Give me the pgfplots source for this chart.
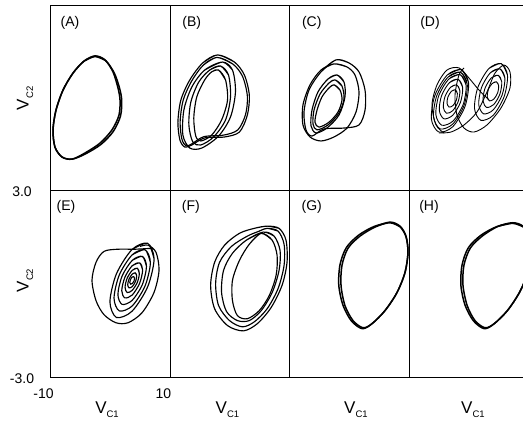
\documentclass[border=0pt]{standalone}
\usepackage{fontspec}
\setmainfont{Liberation Sans}
\usepackage{pgfplots}
\pgfplotsset{compat=1.18}
\newcommand{\VC}[1]{V\raisebox{-4.5pt}{\fontsize{9.5}{10}\selectfont C#1}}
\tikzset{plabel/.style={font=\fontsize{14}{16}\selectfont, anchor=center}}
\pgfplotsset{
 panel/.style={scale only axis, width=120pt, height=185pt, xmin=-10, xmax=10, ymin=-3, ymax=3,
   xtick=\empty, ytick=\empty, axis line style={line width=0.9pt}, anchor=south west, clip=true},
 traj/.style={black, line width=1.15pt, smooth, mark=none},
 thick traj/.style={black, line width=1.5pt, smooth, mark=none},
 xlab/.style={xlabel={\VC{1}}, xlabel style={at={(axis description cs:#1,-0.176)}, anchor=center, font=\fontsize{17}{20}\selectfont}},
 ylab/.style={ylabel={\VC{2}}, ylabel style={at={(axis description cs:-0.208,#1)}, anchor=center, font=\fontsize{17}{20}\selectfont}},
}
\begin{document}
\begin{tikzpicture}
% ---------------- (A)
\begin{axis}[panel, at={(50pt,233pt)}, ylab=0.495]
\addplot[thick traj] coordinates {(-4.33,1.18) (-2.5,1.35) (-0.83,1.22) (0.5,0.83) (1.33,0.31) (1.67,-0.08) (1.5,-0.57) (0.33,-1.05) (-1.67,-1.48) (-4.17,-1.80) (-6.33,-2.0) (-8.0,-1.93) (-9.17,-1.61) (-9.5,-1.05) (-9.0,-0.41) (-7.83,0.24) (-6.17,0.79) (-4.33,1.18) (-2.5,1.35) (-0.83,1.22)};
\addplot[thick traj] coordinates {(-4.33,1.18) (-2.5,1.33) (-0.75,1.20) (0.7,0.8) (1.6,0.3) (1.95,-0.1) (1.75,-0.6) (0.55,-1.1) (-1.5,-1.52) (-4.1,-1.83) (-6.3,-2.0) (-8.0,-1.93) (-9.17,-1.61) (-9.5,-1.05) (-9.0,-0.41) (-7.83,0.24) (-6.17,0.79) (-4.33,1.18) (-2.5,1.33) (-0.75,1.20)};
\node[plabel] at (rel axis cs:0.167,0.905) {(A)};
\end{axis}
% ---------------- (B)
\begin{axis}[panel, at={(170pt,233pt)}, width=119pt]
\addplot[traj] coordinates {(-4.5,1.12) (-2.0,1.38) (0.83,1.15) (2.5,0.73) (3.33,0.08) (3.0,-0.57) (1.67,-1.12) (-0.83,-1.28) (-4.17,-1.31) (-6.33,-1.54) (-7.5,-1.61) (-8.33,-1.38) (-8.67,-0.80) (-8.17,-0.08) (-6.67,0.57) (-4.5,1.12) (-2.0,1.38) (0.83,1.15)};
\addplot[traj] coordinates {(-4.4,1.05) (-2.1,1.30) (0.6,1.08) (2.2,0.68) (3.0,0.05) (2.7,-0.55) (1.4,-1.05) (-1.0,-1.22) (-4.3,-1.27) (-6.3,-1.50) (-7.3,-1.57) (-8.0,-1.35) (-8.3,-0.80) (-7.8,-0.1) (-6.4,0.52) (-4.4,1.05) (-2.1,1.30) (0.6,1.08)};
\addplot[traj] coordinates {(-4.17,0.89) (-1.17,1.15) (0.5,0.89) (1.0,0.18) (0.17,-0.63) (-1.83,-1.25) (-4.67,-1.64) (-6.67,-1.64) (-7.83,-1.22) (-7.67,-0.41) (-6.33,0.34) (-4.17,0.89) (-1.17,1.15) (0.5,0.89)};
\addplot[traj] coordinates {(-3.33,0.89) (-1.5,1.02) (-0.17,0.73) (0.17,0.02) (-0.67,-0.73) (-2.67,-1.28) (-4.83,-1.54) (-6.17,-1.44) (-6.83,-0.89) (-6.5,-0.15) (-5.17,0.50) (-3.33,0.89) (-1.5,1.02) (-0.17,0.73)};
\addplot[traj] coordinates {(-3.0,0.83) (-1.83,0.89) (-0.67,0.57) (-0.33,-0.08) (-1.33,-0.73) (-3.0,-1.22) (-4.83,-1.41) (-5.67,-1.25) (-6.0,-0.67) (-5.5,0.02) (-4.17,0.57) (-3.0,0.83) (-1.83,0.89) (-0.67,0.57)};
\node[plabel] at (rel axis cs:0.183,0.905) {(B)};
\end{axis}
% ---------------- (C)
\begin{axis}[panel, at={(289pt,233pt)}]
\addplot[traj] coordinates {(-4.67,0.83) (-2.17,1.22) (0,1.12) (1.67,0.83) (2.67,0.24) (2.67,-0.41) (1.67,-0.89) (-0.83,-0.99) (-4.17,-1.02) (-6.17,-1.25) (-7.17,-1.05) (-7.5,-0.47) (-6.67,0.24) (-4.67,0.83) (-2.17,1.22) (0,1.12)};
\addplot[traj] coordinates {(-4.67,0.89) (-2.5,1.09) (-0.33,0.99) (1.0,0.73) (1.67,0.18) (1.17,-0.47) (-0.33,-0.99) (-2.5,-1.28) (-4.67,-1.41) (-6.5,-1.28) (-7.67,-0.89) (-7.67,-0.24) (-6.5,0.41) (-4.67,0.89) (-2.5,1.09) (-0.33,0.99)};
\addplot[traj] coordinates {(-3.5,0.60) (-2.0,0.73) (-0.83,0.50) (-0.67,0.02) (-1.67,-0.57) (-3.67,-0.99) (-5.5,-1.15) (-6.33,-0.92) (-6.17,-0.41) (-5.17,0.18) (-3.5,0.60) (-2.0,0.73) (-0.83,0.50)};
\addplot[traj] coordinates {(-3.33,0.47) (-2.33,0.57) (-1.17,0.37) (-0.83,-0.05) (-1.67,-0.50) (-3.5,-0.89) (-5.33,-1.05) (-6.0,-0.86) (-5.83,-0.41) (-4.83,0.11) (-3.33,0.47) (-2.33,0.57) (-1.17,0.37)};
\addplot[traj] coordinates {(-3.33,0.31) (-2.5,0.41) (-1.5,0.24) (-1.17,-0.08) (-1.83,-0.47) (-3.33,-0.80) (-5.0,-0.96) (-5.67,-0.80) (-5.33,-0.41) (-4.5,0.02) (-3.33,0.31) (-2.5,0.41) (-1.5,0.24)};
\node[plabel] at (rel axis cs:0.19,0.905) {(C)};
\end{axis}
% ---------------- (D)
\begin{axis}[panel, at={(409pt,233pt)}]
\addplot[traj, line width=0.9pt] coordinates {(-3.62,0.73) (-1.30,0.90) (-0.07,0.48) (-0.66,-0.29) (-2.72,-0.95) (-5.04,-1.12) (-6.27,-0.70) (-5.68,0.07) (-3.62,0.73) (-1.30,0.90) (-0.07,0.48)};
\addplot[traj, line width=0.9pt] coordinates {(-3.50,0.66) (-1.40,0.82) (-0.29,0.43) (-0.83,-0.26) (-2.70,-0.86) (-4.80,-1.02) (-5.91,-0.63) (-5.37,0.06) (-3.50,0.66) (-1.40,0.82) (-0.29,0.43)};
\addplot[traj, line width=0.9pt] coordinates {(-3.36,0.60) (-1.47,0.74) (-0.48,0.40) (-0.96,-0.22) (-2.64,-0.76) (-4.53,-0.90) (-5.52,-0.56) (-5.04,0.06) (-3.36,0.60) (-1.47,0.74) (-0.48,0.40)};
\addplot[traj, line width=0.9pt] coordinates {(-3.27,0.48) (-1.81,0.59) (-1.05,0.32) (-1.43,-0.16) (-2.73,-0.58) (-4.19,-0.69) (-4.95,-0.42) (-4.57,0.06) (-3.27,0.48) (-1.81,0.59) (-1.05,0.32)};
\addplot[traj, line width=0.9pt] coordinates {(-3.08,0.33) (-2.05,0.41) (-1.52,0.22) (-1.80,-0.13) (-2.72,-0.43) (-3.75,-0.51) (-4.28,-0.32) (-4.0,0.03) (-3.08,0.33) (-2.05,0.41) (-1.52,0.22)};
\addplot[traj, line width=0.9pt] coordinates {(-2.94,0.20) (-2.29,0.25) (-1.94,0.13) (-2.10,-0.08) (-2.66,-0.26) (-3.31,-0.31) (-3.66,-0.19) (-3.51,0.02) (-2.94,0.20) (-2.29,0.25) (-1.94,0.13)};
\addplot[traj, line width=0.9pt] coordinates {(3.32,0.94) (5.37,1.10) (6.42,0.72) (5.86,0.03) (4.02,-0.58) (1.97,-0.74) (0.92,-0.36) (1.48,0.33) (3.32,0.94) (5.37,1.10) (6.42,0.72)};
\addplot[traj, line width=0.9pt] coordinates {(3.55,0.80) (5.16,0.93) (5.98,0.63) (5.52,0.08) (4.05,-0.40) (2.44,-0.53) (1.62,-0.23) (2.08,0.32) (3.55,0.80) (5.16,0.93) (5.98,0.63)};
\addplot[traj, line width=0.9pt] coordinates {(3.69,0.63) (4.86,0.72) (5.46,0.51) (5.15,0.11) (4.11,-0.23) (2.94,-0.32) (2.34,-0.11) (2.65,0.29) (3.69,0.63) (4.86,0.72) (5.46,0.51)};
\addplot[traj, line width=0.9pt] coordinates {(3.85,0.45) (4.57,0.51) (4.95,0.38) (4.78,0.15) (4.15,-0.05) (3.43,-0.11) (3.05,0.02) (3.22,0.26) (3.85,0.45) (4.57,0.51) (4.95,0.38)};
\addplot[traj, line width=0.9pt] coordinates {(-5.0,-1.15) (-3.0,-1.12) (-0.83,-0.89) (1.33,-0.47) (3.0,0.18) (4.33,0.79) (5.83,1.05) (6.83,0.83) (6.83,0.31) (5.33,-0.34) (3.0,-0.89) (0.83,-1.12) (-0.83,-0.99) (-2.0,-0.57) (-2.33,0.08) (-1.67,0.73) (-0.83,0.96)};
\addplot[traj, line width=0.9pt] coordinates {(3.33,-0.08) (1.67,0.24) (0,0.63) (-1.67,0.96) (-3.67,0.89) (-5.33,0.41) (-6.17,-0.24) (-5.5,-0.89) (-4.17,-1.15)};
\node[plabel] at (rel axis cs:0.175,0.905) {(D)};
\end{axis}
% ---------------- (E)
\begin{axis}[panel, at={(50pt,46pt)}, height=187pt, ylab=0.516, xlab=0.475,
  xtick={-10,10}, xticklabels={-10,10}, ytick={-3,3}, yticklabels={-3.0,3.0},
  major tick length=0pt,
  xticklabel style={anchor=center, yshift=-17pt, xshift=-6.5pt, font=\fontsize{14}{16}\selectfont},
  yticklabel style={anchor=center, xshift=-28pt, yshift=-1.5pt, font=\fontsize{14}{16}\selectfont}]
\addplot[traj] coordinates {(3.67,1.09) (6.27,1.29) (7.35,0.79) (6.27,-0.11) (3.67,-0.89) (1.07,-1.09) (-0.01,-0.59) (1.07,0.31) (3.67,1.09) (6.27,1.29) (7.35,0.79)};
\addplot[traj] coordinates {(3.70,0.92) (5.85,1.08) (6.73,0.67) (5.84,-0.08) (3.70,-0.72) (1.56,-0.88) (0.67,-0.47) (1.56,0.28) (3.70,0.92) (5.85,1.08) (6.73,0.67)};
\addplot[traj] coordinates {(3.7,0.74) (5.39,0.87) (6.08,0.55) (5.38,-0.04) (3.7,-0.54) (2.01,-0.67) (1.32,-0.35) (2.02,0.24) (3.7,0.74) (5.39,0.87) (6.08,0.55)};
\addplot[traj] coordinates {(3.7,0.57) (4.94,0.66) (5.44,0.43) (4.92,0.0) (3.7,-0.37) (2.47,-0.46) (1.96,-0.23) (2.48,0.20) (3.7,0.57) (4.94,0.66) (5.44,0.43)};
\addplot[traj] coordinates {(3.7,0.42) (4.55,0.49) (4.89,0.32) (4.54,0.03) (3.7,-0.22) (2.86,-0.29) (2.51,-0.12) (2.86,0.17) (3.7,0.42) (4.55,0.49) (4.89,0.32)};
\addplot[traj] coordinates {(3.7,0.30) (4.22,0.34) (4.45,0.24) (4.24,0.06) (3.7,-0.10) (3.18,-0.14) (2.95,-0.04) (3.17,0.14) (3.7,0.30) (4.22,0.34) (4.45,0.24)};
\addplot[traj] coordinates {(3.63,0.20) (3.96,0.22) (4.10,0.17) (4.01,0.08) (3.73,0.0) (3.44,-0.02) (3.30,0.03) (3.39,0.12) (3.63,0.20) (3.96,0.22) (4.10,0.17)};
\addplot[traj] coordinates {(7.0,1.13) (4.17,1.10) (1.33,1.10) (-1.0,1.03) (-2.33,0.68) (-3.0,0.10) (-2.33,-0.55) (-1.0,-1.0) (1.0,-1.26) (3.0,-1.26) (5.33,-0.94) (7.33,-0.29) (8.17,0.42) (7.67,1.0) (6.33,1.23) (5.0,1.19)};
\node[plabel] at (rel axis cs:0.133,0.909) {(E)};
\end{axis}
% ---------------- (F)
\begin{axis}[panel, at={(170pt,46pt)}, height=187pt, width=119pt, xlab=0.483]
\addplot[traj] coordinates {(4.17,1.77) (6.33,1.84) (8.33,1.77) (9.5,1.39) (9.67,0.68) (8.83,-0.06) (7.0,-0.77) (4.67,-1.29) (2.33,-1.52) (-0.33,-1.35) (-2.5,-0.81) (-3.17,-0.06) (-2.5,0.68) (-0.83,1.23) (1.67,1.61) (4.17,1.77) (6.33,1.84) (8.33,1.77)};
\addplot[traj] coordinates {(5.0,1.68) (6.33,1.77) (8.17,1.68) (9.17,1.26) (9.17,0.58) (8.17,-0.16) (6.33,-0.81) (4.17,-1.23) (2.17,-1.39) (0,-1.19) (-1.83,-0.71) (-2.33,0.0) (-1.67,0.68) (0.33,1.19) (3.0,1.52) (5.0,1.68) (6.33,1.77) (8.17,1.68)};
\addplot[traj] coordinates {(2.83,1.39) (5.67,1.65) (7.5,1.52) (8.5,1.06) (8.33,0.42) (7.17,-0.29) (5.33,-0.87) (3.33,-1.19) (1.33,-1.19) (-0.5,-0.90) (-1.33,-0.29) (-1.0,0.42) (0.5,0.97) (2.83,1.39) (5.67,1.65) (7.5,1.52)};
\addplot[traj] coordinates {(3.33,1.26) (5.33,1.61) (7.17,1.39) (8.0,0.90) (7.83,0.26) (6.67,-0.39) (5.0,-0.87) (3.0,-1.13) (1.33,-1.03) (0.5,-0.55) (0.5,0.10) (1.67,0.74) (3.33,1.26) (5.33,1.61) (7.17,1.39)};
\node[plabel] at (rel axis cs:0.175,0.909) {(F)};
\end{axis}
% ---------------- (G)
\begin{axis}[panel, at={(289pt,46pt)}, height=187pt, xlab=0.558]
\addplot[thick traj] coordinates {(4.33,1.81) (6.83,1.97) (8.5,1.84) (9.5,1.52) (9.83,1.0) (9.33,0.35) (8.0,-0.29) (6.0,-0.87) (3.83,-1.29) (2.33,-1.42) (0.67,-1.19) (-0.67,-0.71) (-1.33,-0.06) (-1.17,0.58) (-0.17,1.13) (1.83,1.52) (4.33,1.81) (6.83,1.97) (8.5,1.84)};
\addplot[thick traj] coordinates {(4.2,1.83) (6.83,1.95) (8.5,1.82) (9.5,1.50) (9.83,1.0) (9.33,0.35) (8.0,-0.29) (6.0,-0.87) (3.83,-1.29) (2.2,-1.45) (0.4,-1.2) (-1.0,-0.7) (-1.7,-0.06) (-1.5,0.6) (-0.45,1.15) (1.6,1.55) (4.2,1.83) (6.83,1.95) (8.5,1.82)};
\node[plabel] at (rel axis cs:0.19,0.909) {(G)};
\end{axis}
% ---------------- (H)
\begin{axis}[panel, at={(409pt,46pt)}, height=187pt, xlab=0.533]
\addplot[thick traj] coordinates {(4.8,1.83) (7.3,1.95) (9.0,1.84) (10.0,1.52) (10.3,1.0) (9.8,0.35) (8.4,-0.29) (6.4,-0.87) (4.2,-1.29) (2.67,-1.42) (1.0,-1.19) (-0.3,-0.71) (-1.0,-0.06) (-0.85,0.58) (0.2,1.13) (2.2,1.52) (4.8,1.83) (7.3,1.95) (9.0,1.84)};
\addplot[thick traj] coordinates {(4.7,1.83) (7.3,1.93) (9.0,1.82) (10.0,1.5) (10.3,1.0) (9.8,0.35) (8.4,-0.29) (6.4,-0.87) (4.2,-1.29) (2.55,-1.45) (0.75,-1.2) (-0.65,-0.7) (-1.35,-0.06) (-1.15,0.6) (-0.1,1.15) (2.0,1.55) (4.7,1.83) (7.3,1.93) (9.0,1.82)};
\node[plabel] at (rel axis cs:0.167,0.909) {(H)};
\end{axis}
\pgfresetboundingbox
\useasboundingbox (0,0) rectangle (523pt,423pt);
\end{tikzpicture}
\end{document}
